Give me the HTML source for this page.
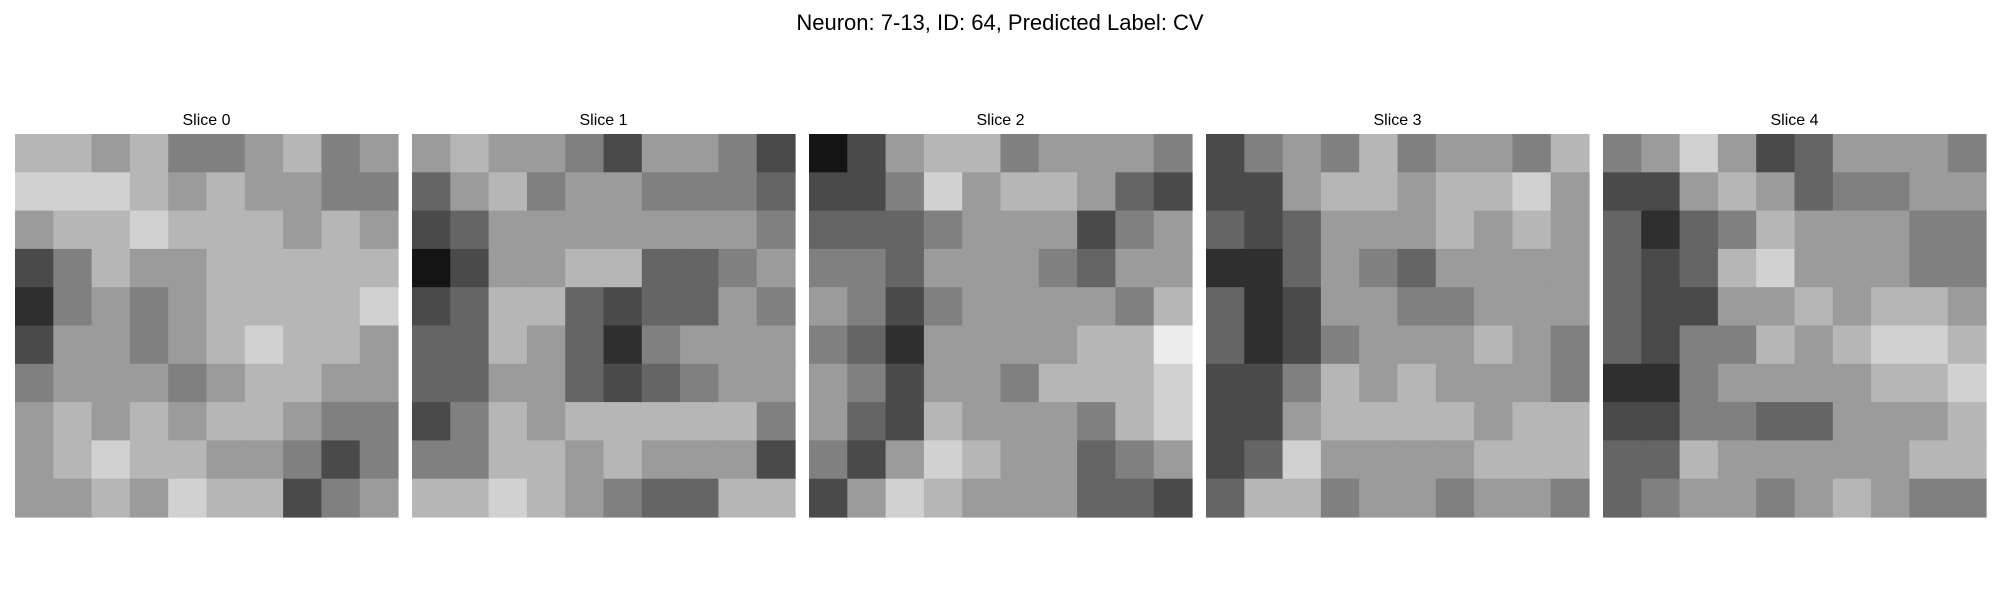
<!DOCTYPE html>
<html><head><meta charset="utf-8">
<style>
html,body{margin:0;padding:0;background:#fff;}
svg{display:block;font-family:"Liberation Sans","DejaVu Sans",sans-serif;}
</style></head>
<body>
<svg id="fig" width="2000" height="600" viewBox="0 0 2000 600">
<text x="1000" y="30" text-anchor="middle" font-size="22" fill="#000">Neuron: 7-13, ID: 64, Predicted Label: CV</text>
</svg>
<script>
const sliceLabels = ["Slice 0","Slice 1","Slice 2","Slice 3","Slice 4"];
const slice0 = [
[6,6,5,6,4,4,5,6,4,5],[7,7,7,6,5,6,5,5,4,4],[5,6,6,7,6,6,6,5,6,5],[2,4,6,5,5,6,6,6,6,6],[1,4,5,4,5,6,6,6,6,7],
[2,5,5,4,5,6,7,6,6,5],[4,5,5,5,4,5,6,6,5,5],[5,6,5,6,5,6,6,5,4,4],[5,6,7,6,6,5,5,4,2,4],[5,5,6,5,7,6,6,2,4,5]];
const slice1 = [
[5,6,5,5,4,2,5,5,4,2],[3,5,6,4,5,5,4,4,4,3],[2,3,5,5,5,5,5,5,5,4],[0,2,5,5,6,6,3,3,4,5],[2,3,6,6,3,2,3,3,5,4],
[3,3,6,5,3,1,4,5,5,5],[3,3,5,5,3,2,3,4,5,5],[2,4,6,5,6,6,6,6,6,4],[4,4,6,6,5,6,5,5,5,2],[6,6,7,6,5,4,3,3,6,6]];
const slice2 = [
[0,2,5,6,6,4,5,5,5,4],[2,2,4,7,5,6,6,5,3,2],[3,3,3,4,5,5,5,2,4,5],[4,4,3,5,5,5,4,3,5,5],[5,4,2,4,5,5,5,5,4,6],
[4,3,1,5,5,5,5,6,6,8],[5,4,2,5,5,4,6,6,6,7],[5,3,2,6,5,5,5,4,6,7],[4,2,5,7,6,5,5,3,4,5],[2,5,7,6,5,5,5,3,3,2]];
const slice3 = [
[2,4,5,4,6,4,5,5,4,6],[2,2,5,6,6,5,6,6,7,5],[3,2,3,5,5,5,6,5,6,5],[1,1,3,5,4,3,5,5,5,5],[3,1,2,5,5,4,4,5,5,5],
[3,1,2,4,5,5,5,6,5,4],[2,2,4,6,5,6,5,5,5,4],[2,2,5,6,6,6,6,5,6,6],[2,3,7,5,5,5,5,6,6,6],[3,6,6,4,5,5,4,5,5,4]];
const slice4 = [
[4,5,7,5,2,3,5,5,5,4],[2,2,5,6,5,3,4,4,5,5],[3,1,3,4,6,5,5,5,4,4],[3,2,3,6,7,5,5,5,4,4],[3,2,2,5,5,6,5,6,6,5],
[3,2,4,4,6,5,6,7,7,6],[1,1,4,5,5,5,5,6,6,7],[2,2,4,4,3,3,5,5,5,6],[3,3,6,5,5,5,5,5,6,6],[3,4,5,5,4,5,6,5,4,4]];
const slices = [slice0, slice1, slice2, slice3, slice4];

const NS = "http://www.w3.org/2000/svg";
const svg = document.getElementById("fig");
const panelX0 = 15, panelStep = 397, panelY = 134, panelSize = 383;
function xPanel(i){ return panelX0 + i*panelStep; }
function gray(v){ const g = Math.max(0, Math.min(255, Math.round(20 + v*27))); return "rgb("+g+","+g+","+g+")"; }

slices.forEach((grid, si) => {
  const g = document.createElementNS(NS, "g");
  
  
  svg.appendChild(g);
  const n = grid.length, m = grid[0].length;
  const cw = panelSize / m, ch = panelSize / n;
  grid.forEach((row, r) => {
    row.forEach((v, c) => {
      const rect = document.createElementNS(NS, "rect");
      rect.setAttribute("x", (xPanel(si) + c*cw).toFixed(2));
      rect.setAttribute("y", (panelY + r*ch).toFixed(2));
      rect.setAttribute("width", (cw + 0.6).toFixed(2));
      rect.setAttribute("height", (ch + 0.6).toFixed(2));
      rect.setAttribute("fill", gray(v));
      
      
      g.appendChild(rect);
    });
  });
  const t = document.createElementNS(NS, "text");
  t.setAttribute("x", xPanel(si) + panelSize/2);
  t.setAttribute("y", 125);
  t.setAttribute("text-anchor", "middle");
  t.setAttribute("font-size", "16");
  t.textContent = sliceLabels[si];
  
  
  svg.appendChild(t);
});
</script>
</body></html>
